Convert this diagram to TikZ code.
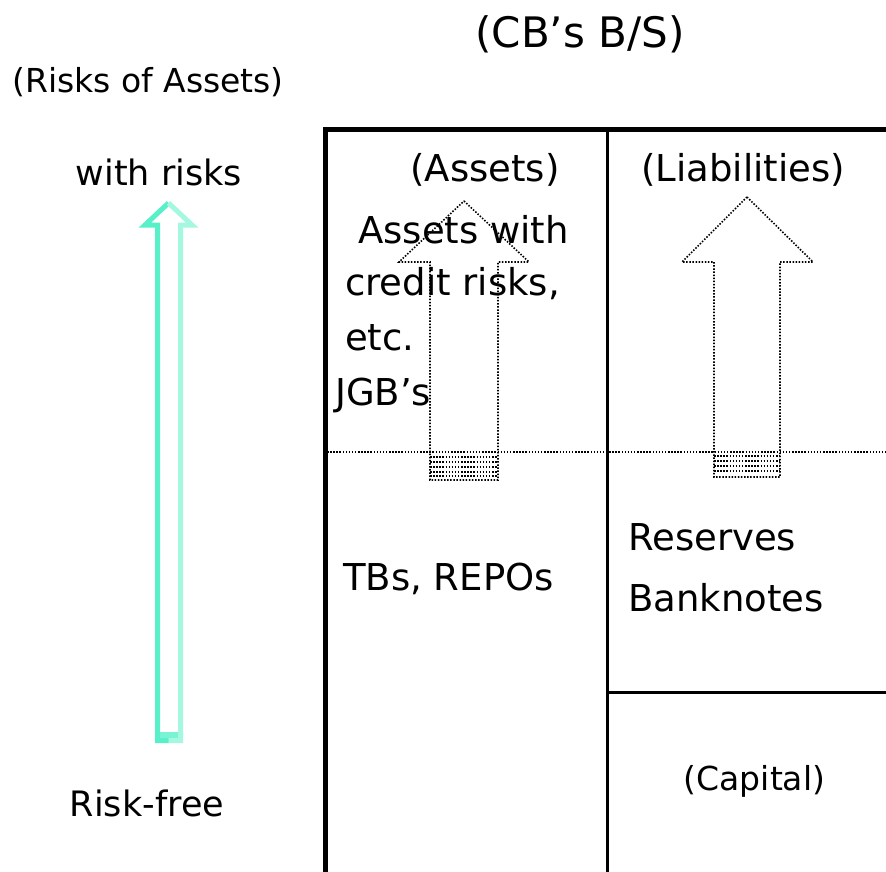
\documentclass[tikz,border=0pt]{standalone}
\usepackage{fontspec}
\setmainfont{DejaVu Sans}
\definecolor{aquaL}{RGB}{88,240,200}
\definecolor{aquaR}{RGB}{165,248,224}
\definecolor{aquaF}{RGB}{120,244,212}
\tikzset{
  txt/.style={inner sep=0pt, font=\fontsize{37}{44}\selectfont},
  smalltxt/.style={inner sep=0pt, font=\fontsize{33}{40}\selectfont},
  midtxt/.style={inner sep=0pt, font=\fontsize{35}{42}\selectfont},
  titletxt/.style={inner sep=0pt, font=\fontsize{42}{50}\selectfont},
  dotline/.style={line width=1.6pt, dash pattern=on 1.5pt off 1.6pt, black},
  frame/.style={line width=5pt, black},
  thinframe/.style={line width=3pt, black},
}
\begin{document}
\begin{tikzpicture}[x=1pt,y=-1pt]
\useasboundingbox (0,0) rectangle (886,872);
% frame
\draw[frame] (325,872) -- (325,129.5) -- (886,129.5);
\draw[thinframe] (607.5,129.5) -- (607.5,872);
\draw[thinframe] (607.5,692) -- (886,692);
% dotted divider
\draw[dotline] (327,452) -- (886,452);
% cyan arrow
\fill[aquaF] (155,732) rectangle (183,743);
\draw[aquaL,line width=5pt,line join=miter] (168.5,740.5) -- (157.5,740.5) -- (157.5,225) -- (145,225) -- (168.5,203);
\draw[aquaR,line width=5pt,line join=miter] (168.5,740.5) -- (180.5,740.5) -- (180.5,225) -- (192,225) -- (168.5,203);
% assets arrow
\draw[dotline] (464,201) -- (529,262) -- (498,262) -- (498,480) -- (430,480) -- (430,262) -- (399,262) -- cycle;
\foreach \yy in {457,462,467,472,476} \draw[dotline] (430,\yy) -- (498,\yy);
% liabilities arrow
\draw[dotline] (747,197) -- (813,262) -- (780,262) -- (780,477) -- (714,477) -- (714,262) -- (682,262) -- cycle;
\foreach \yy in {456,461,466,471} \draw[dotline] (714,\yy) -- (780,\yy);
% texts
\node[titletxt, anchor=base] (title) at (580,48) {(CB’s B/S)};
\node[smalltxt, anchor=base] (riskassets) at (148,93) {(Risks of Assets)};
\node[midtxt, anchor=base] (withrisks) at (159,185) {with risks};
\node[midtxt, anchor=base] (riskfree) at (147,816) {Risk-free};
\node[txt, anchor=base] (assets) at (485,182) {(Assets)};
\node[txt, anchor=base] (liab) at (743,182) {(Liabilities)};
\node[txt, anchor=base west] (aw) at (358,243) {Assets with};
\node[txt, anchor=base west] (cr) at (345,295) {credit risks,};
\node[txt, anchor=base west] (etc) at (345,350) {etc.};
\node[txt, anchor=base west] (jgb) at (335,405) {JGB’s};
\node[txt, anchor=base west] (tbs) at (343,590) {TBs, REPOs};
\node[txt, anchor=base west] (res) at (628,550) {Reserves};
\node[txt, anchor=base west] (bank) at (628,611) {Banknotes};
\node[smalltxt, anchor=base] (cap) at (754.5,790) {(Capital)};
\end{tikzpicture}
\end{document}
